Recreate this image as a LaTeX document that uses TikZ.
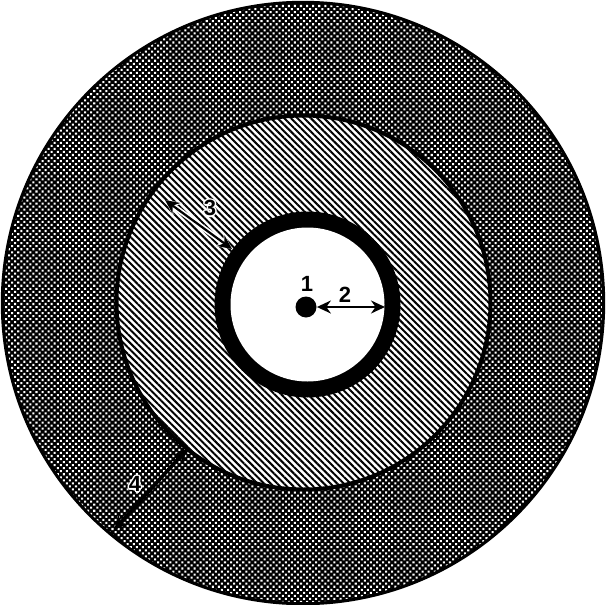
\documentclass[tikz,border=0pt]{standalone}
\usepackage{fontspec}
\setmainfont{Liberation Sans}
\usetikzlibrary{patterns.meta,arrows.meta}
\begin{document}
\begin{tikzpicture}[x=0.5pt,y=-0.5pt,
  arr/.style={line width=1.1pt,{Stealth[length=7pt,width=6.5pt]}-{Stealth[length=7pt,width=6.5pt]}},
  halo/.style={line width=2.8pt,white,{Stealth[length=8pt,width=8pt]}-{Stealth[length=8pt,width=8pt]}},
  lbl/.style={font=\fontsize{11pt}{13pt}\selectfont\bfseries,inner sep=0pt},
  wlbl/.style={lbl,text=white}]
\useasboundingbox (0,0) rectangle (605,605);
% outer ring
\fill[black] (303,303) circle[radius=301];
\fill[pattern={Dots[distance=2.15pt,angle=45,radius=0.72pt]},pattern color=white] (303,303) circle[radius=299];
\draw[line width=1.2pt] (303,303) circle[radius=301];
% middle ring
\fill[white] (303.5,302.5) circle[radius=187];
\fill[pattern={Lines[angle=-45,distance=2.35pt,line width=1pt]},pattern color=black] (303.5,302.5) circle[radius=187];
\draw[line width=2pt] (303.5,302.5) circle[radius=187];
% inner thick ring
\fill[black] (307.5,304.5) circle[radius=93];
\fill[white] (307.5,304.5) circle[radius=77];
% center dot
\node[circle,fill=black,inner sep=0pt,minimum size=10.5pt] (dot) at (306,307) {};
% arrows
\coordinate (e2) at (385,307);
\draw[arr] (dot.east) -- (e2);
\coordinate (s3) at (165,200);
\coordinate (e3) at (232,249);
\draw[halo] (s3) -- (e3);
\draw[arr] (s3) -- (e3);
\coordinate (s4) at (114,530);
\coordinate (e4) at (187,449);
\draw[arr,line width=1.8pt] (s4) -- (e4);
% labels
\foreach \dx/\dy in {-1.5/0,1.5/0,0/-1.5,0/1.5,-1.1/-1.1,1.1/1.1,-1.1/1.1,1.1/-1.1}{
  \node[wlbl] at (210+\dx,208+\dy) {3};
  \node[wlbl] at (135+\dx,484+\dy) {4};
}
\node[lbl] (l1) at (307,284) {1};
\node[lbl] (l2) at (345,295) {2};
\node[lbl] (l3) at (210,208) {3};
\node[lbl] (l4) at (135,484) {4};
\end{tikzpicture}
\end{document}
